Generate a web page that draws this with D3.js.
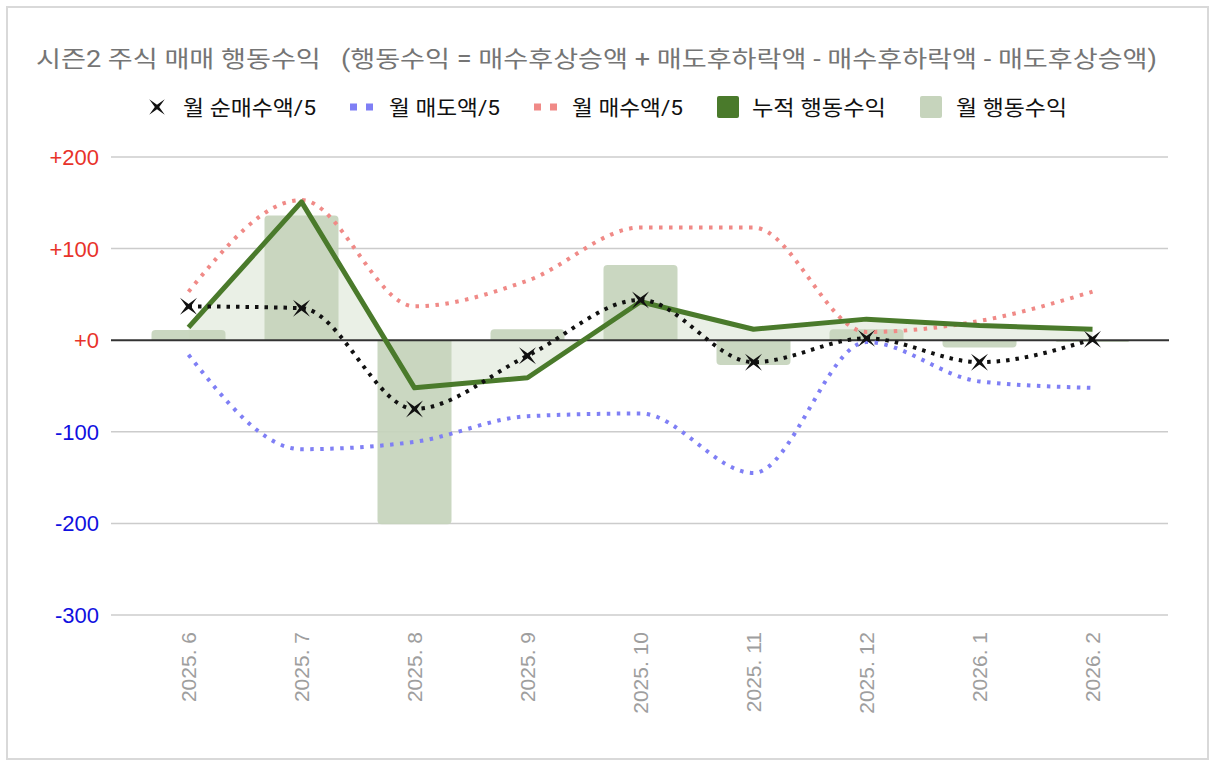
<!DOCTYPE html>
<html>
<head>
<meta charset="utf-8">
<script src="https://cdn.jsdelivr.net/npm/d3@7"></script>
<style>
  body { margin: 0; background: #fff; }
  text { font-family: Roboto, "Noto Sans CJK KR", sans-serif; }
</style>
</head>
<body>
<div id="chart"></div>
<script>
// data
var months = ["2025. 6", "2025. 7", "2025. 8", "2025. 9", "2025. 10", "2025. 11", "2025. 12", "2026. 1", "2026. 2"];
var monthlyProfit = [11, 136, -201, 12, 82, -27, 12, -8, -2];   // 월 행동수익 (bars)
var cumProfit = [14, 151, -52, -41, 42, 12, 23, 16, 12];        // 누적 행동수익
var netBuy = [37, 35, -75, -17, 44, -24, 2, -24, 1];            // 월 순매수액/5
var sellAmt = [-16, -119, -111, -83, -80, -145, -2, -45, -52];  // 월 매도액/5
var buyAmt = [53, 153, 37, 65, 123, 123, 9, 21, 53];            // 월 매수액/5
var yTicks = [200, 100, 0, -100, -200, -300];

var width = 1216, height = 766;

var svg = d3.select("#chart").append("svg")
    .attr("width", width)
    .attr("height", height);

// outer border
svg.append("rect")
    .attr("x", 7).attr("y", 7)
    .attr("width", 1201).attr("height", 752)
    .attr("fill", "#fff")
    .attr("stroke", "#d9d9d9")
    .attr("stroke-width", 2);

// title
svg.append("text")
    .attr("x", 36).attr("y", 67)
    .attr("fill", "#757575")
    .style("font-size", "23px")
    .attr("xml:space", "preserve")
    .attr("textLength", 1121)
    .attr("lengthAdjust", "spacingAndGlyphs")
    .text("시즌2 주식 매매 행동수익   (행동수익 = 매수후상승액 + 매도후하락액 - 매수후하락액 - 매도후상승액)");

// scales
var x = d3.scaleBand().domain(months).range([132, 1149]);
var y = d3.scaleLinear().domain([-300, 200]).range([615, 157]);
var cx = function(d, i) { return x(months[i]) + x.bandwidth() / 2; };

// gridlines
svg.append("g").selectAll("line")
    .data(yTicks.filter(function(t) { return t !== 0; }))
    .enter().append("line")
    .attr("x1", 111).attr("x2", 1168)
    .attr("y1", function(d) { return y(d); })
    .attr("y2", function(d) { return y(d); })
    .attr("stroke", "#cccccc")
    .attr("stroke-width", 1.5);

// y labels
svg.append("g").selectAll("text")
    .data(yTicks)
    .enter().append("text")
    .attr("x", 99)
    .attr("y", function(d) { return y(d) + 8; })
    .attr("text-anchor", "end")
    .style("font-size", "22px")
    .style("font-family", "'Liberation Sans', Arial, sans-serif")
    .attr("fill", function(d) { return d >= 0 ? "#e8332a" : "#1010e0"; })
    .text(function(d) { return d >= 0 ? "+" + d : d; });

// x labels
svg.append("g").selectAll("text")
    .data(months)
    .enter().append("text")
    .attr("transform", function(d, i) { return "translate(" + (cx(d, i) + 7) + ",632) rotate(-90)"; })
    .attr("text-anchor", "end")
    .style("font-size", "21px")
    .style("font-family", "'Liberation Sans', Arial, sans-serif")
    .attr("fill", "#9e9e9e")
    .text(function(d) { return d; });

// area under cumulative line
svg.append("path")
    .datum(cumProfit)
    .attr("d", d3.area().x(cx).y0(y(0)).y1(function(d) { return y(d); }))
    .attr("fill", "#eaf0e6");

// bars with rounded outer end
var barW = 74;
svg.append("g").selectAll("path")
    .data(monthlyProfit)
    .enter().append("path")
    .attr("fill", "#c6d4bc")
    .attr("fill-opacity", 0.92)
    .attr("d", function(d, i) {
        var x0 = cx(d, i) - barW / 2, x1 = x0 + barW;
        var y0 = y(0), y1 = y(d);
        var r = Math.min(4, Math.abs(y1 - y0));
        var s = d >= 0 ? 1 : -1;
        return "M" + x0 + "," + y0 +
            "L" + x0 + "," + (y1 + s * r) +
            "Q" + x0 + "," + y1 + " " + (x0 + r) + "," + y1 +
            "L" + (x1 - r) + "," + y1 +
            "Q" + x1 + "," + y1 + " " + x1 + "," + (y1 + s * r) +
            "L" + x1 + "," + y0 + "Z";
    });

// zero line
svg.append("line")
    .attr("x1", 111).attr("x2", 1169)
    .attr("y1", y(0)).attr("y2", y(0))
    .attr("stroke", "#333")
    .attr("stroke-width", 2);

var smooth = d3.line().x(cx).y(function(d) { return y(d); }).curve(d3.curveMonotoneX);

// sell and buy dotted lines
svg.append("path").datum(sellAmt)
    .attr("d", smooth)
    .attr("fill", "none")
    .attr("stroke", "#7f7ff5")
    .attr("stroke-width", 4)
    .attr("stroke-dasharray", "3.5,6.5");

svg.append("path").datum(buyAmt)
    .attr("d", smooth)
    .attr("fill", "none")
    .attr("stroke", "#f08a87")
    .attr("stroke-width", 4)
    .attr("stroke-dasharray", "3.5,6.5");

// cumulative line
svg.append("path").datum(cumProfit)
    .attr("d", d3.line().x(cx).y(function(d) { return y(d); }))
    .attr("fill", "none")
    .attr("stroke", "#4a7a2b")
    .attr("stroke-width", 5)
    .attr("stroke-linejoin", "round");

// net buy dotted line
svg.append("path").datum(netBuy)
    .attr("d", smooth)
    .attr("fill", "none")
    .attr("stroke", "#111")
    .attr("stroke-width", 4)
    .attr("stroke-dasharray", "3.5,6");

// star-x marker
function starX(size) {
    var pts = [], o = size, n = size * 0.2;
    for (var k = 0; k < 8; k++) {
        var a = Math.PI / 4 + k * Math.PI / 4;
        var r = k % 2 === 0 ? o : n;
        pts.push([r * Math.cos(a), r * Math.sin(a)]);
    }
    return "M" + pts.map(function(p) { return p.join(","); }).join("L") + "Z";
}

svg.append("g").selectAll("path")
    .data(netBuy)
    .enter().append("path")
    .attr("transform", function(d, i) { return "translate(" + cx(d, i) + "," + y(d) + ")"; })
    .attr("d", starX(12))
    .attr("fill", "#111");

// legend
var legendY = 107;
var legend = svg.append("g");

legend.append("path")
    .attr("transform", "translate(157," + legendY + ")")
    .attr("d", starX(11))
    .attr("fill", "#111");

function dots(x0, color) {
    legend.append("rect").attr("x", x0).attr("y", legendY - 3.5).attr("width", 7).attr("height", 7).attr("fill", color);
    legend.append("rect").attr("x", x0 + 16).attr("y", legendY - 3.5).attr("width", 7).attr("height", 7).attr("fill", color);
}
dots(350, "#7f7ff5");
dots(534, "#f08a87");

legend.append("rect").attr("x", 717).attr("y", legendY - 11).attr("width", 22).attr("height", 22).attr("rx", 2).attr("fill", "#4a7a2b");
legend.append("rect").attr("x", 920).attr("y", legendY - 11).attr("width", 22).attr("height", 22).attr("rx", 2).attr("fill", "#c6d4bc");

var legendItems = [
    { label: "월 순매수액/5", x: 183, w: 133 },
    { label: "월 매도액/5", x: 389, w: 111 },
    { label: "월 매수액/5", x: 572, w: 111 },
    { label: "누적 행동수익", x: 752, w: 134 },
    { label: "월 행동수익", x: 956, w: 111 }
];
legend.selectAll("text.lbl")
    .data(legendItems)
    .enter().append("text")
    .attr("class", "lbl")
    .attr("x", function(d) { return d.x; })
    .attr("y", legendY + 8)
    .style("font-size", "21px")
    .attr("textLength", function(d) { return d.w; })
    .attr("lengthAdjust", "spacingAndGlyphs")
    .attr("fill", "#111")
    .text(function(d) { return d.label; });
</script>
</body>
</html>
